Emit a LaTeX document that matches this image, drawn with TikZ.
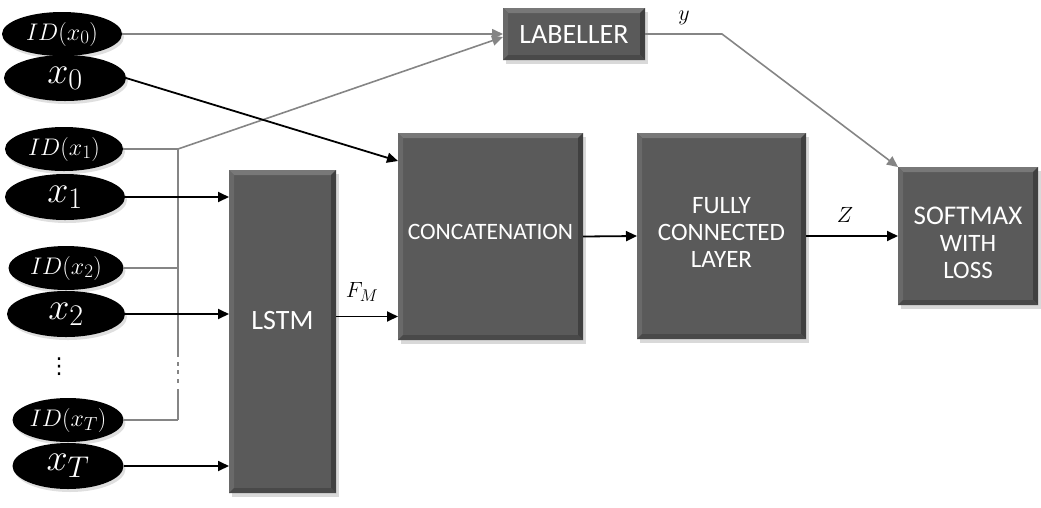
\RequirePackage{fix-cm}
\documentclass[tikz,border=0pt]{standalone}
\usepackage{fontspec}
\setsansfont{Carlito}
\newfontfamily\dejavu{DejaVu Sans}
\DeclareMathSizes{24}{24}{19}{14}
\DeclareMathSizes{38}{38}{30}{22}
\DeclareMathSizes{22}{22}{17}{12}
\usetikzlibrary{arrows.meta,shapes.geometric,shadows,calc}
\definecolor{boxgray}{HTML}{5A5A5A}
\definecolor{bvtop}{HTML}{787878}
\definecolor{bvleft}{HTML}{696969}
\definecolor{bvright}{HTML}{404040}
\definecolor{bvbot}{HTML}{494949}
\definecolor{linegray}{HTML}{858585}
\newcommand{\bevelit}[2]{%
  \fill[bvtop] (#1.north west) -- (#1.north east) -- ([shift={(-5pt,-5pt)}]#1.north east) -- ([shift={(5pt,-5pt)}]#1.north west) -- cycle;
  \fill[bvleft] (#1.north west) -- ([shift={(5pt,-5pt)}]#1.north west) -- ([shift={(5pt,5pt)}]#1.south west) -- (#1.south west) -- cycle;
  \fill[bvright] (#1.north east) -- ([shift={(-5pt,-5pt)}]#1.north east) -- ([shift={(-5pt,5pt)}]#1.south east) -- (#1.south east) -- cycle;
  \fill[bvbot] (#1.south west) -- ([shift={(5pt,5pt)}]#1.south west) -- ([shift={(-5pt,5pt)}]#1.south east) -- (#1.south east) -- cycle;
  \node[boxtext] (#1text) at ([yshift=#2]#1.center) {\csname txt#1\endcsname};
}
\begin{document}
\begin{tikzpicture}[x=1pt,y=-1pt,
  ell/.style={ellipse, fill=black, text=white, inner sep=0pt, outer sep=0pt,
    drop shadow={opacity=0.25, shadow xshift=2pt, shadow yshift=-3pt}},
  idell/.style={ell, minimum height=44pt, font=\fontsize{24}{24}\selectfont},
  xell/.style={ell, minimum height=46pt, font=\fontsize{38}{38}\selectfont},
  blk/.style={rectangle, fill=boxgray, inner sep=0pt, outer sep=0pt,
    drop shadow={opacity=0.3, shadow xshift=3pt, shadow yshift=-4pt}},
  boxtext/.style={text=white, align=center, font=\sffamily\fontsize{25}{27}\selectfont},
  garr/.style={draw=linegray, line width=1.6pt, -{Triangle[length=11pt,width=10pt]}},
  gline/.style={draw=linegray, line width=1.6pt},
  barr/.style={draw=black, line width=1.8pt, -{Triangle[length=11pt,width=10pt]}},
  lbl/.style={font=\fontsize{22}{22}\selectfont}]
\useasboundingbox (0,0) rectangle (1041,507);

% ellipses
\node[idell, minimum width=120pt] (ID0) at (62,34) {$ID(x_0)$};
\node[xell, minimum width=122pt] (X0) at (65,78) {$x_0$};
\node[idell, minimum width=118pt] (ID1) at (64,149) {$ID(x_1)$};
\node[xell, minimum width=120pt] (X1) at (65,197) {$x_1$};
\node[idell, minimum width=115pt] (ID2) at (66,268) {$ID(x_2)$};
\node[xell, minimum width=118pt] (X2) at (66,314) {$x_2$};
\node[font=\dejavu\fontsize{22}{22}\selectfont, inner sep=0pt] (dots) at (59,367) {⋮};
\node[idell, minimum width=111pt] (IDT) at (68,420) {$ID(x_T)$};
\node[xell, minimum width=111pt] (XT) at (68,466) {$x_T$};

% boxes
\def\txtlab{\fontsize{28}{28}\selectfont LABELLER}
\def\txtlstm{\fontsize{28}{28}\selectfont LSTM}
\def\txtconcat{\fontsize{23.5}{24}\selectfont CONCATENATION}
\def\txtfc{FULLY\\CONNECTED\\LAYER}
\def\txtsoft{\fontsize{27}{29}\selectfont SOFTMAX\\WITH\\LOSS}
\node[blk, minimum width=142pt, minimum height=52pt] (lab) at (574,34) {};
\node[blk, minimum width=107pt, minimum height=323pt] (lstm) at (282.5,331.5) {};
\node[blk, minimum width=185pt, minimum height=207pt] (concat) at (490.5,236.5) {};
\node[blk, minimum width=169pt, minimum height=206pt] (fc) at (721.5,236) {};
\node[blk, minimum width=140pt, minimum height=138pt] (soft) at (968,236) {};
\bevelit{lab}{-1pt}
\bevelit{lstm}{11pt}
\bevelit{concat}{5pt}
\bevelit{fc}{4pt}
\bevelit{soft}{-7pt}

% gray connectors
\coordinate (j1) at (178,149);
\coordinate (jT) at (178,420);
\coordinate (bA) at (178,357);
\coordinate (bB) at (178,389);
\coordinate (ycorner) at (722,34);
\draw[garr] (ID0.east) -- (lab.west);
\draw[gline] (ID1.east) -- (j1);
\draw[garr] (j1) -- ([yshift=-3pt]lab.west);
\draw[gline] (j1) -- (bA);
\draw[gline] (bB) -- (jT);
\foreach \yy in {362,370,379} \draw[gline] (178,\yy) -- (178,\yy+4);
\draw[gline] (ID2.east) -- (ID2.east -| j1);
\draw[gline] (IDT.east) -- (jT);
\draw[garr] (lab.east) -- (ycorner) -- (soft.north west);
\node[lbl] (ylab) at (684,18) {$y$};

% black connectors
\draw[barr] (X0.east) -- ([yshift=-28pt]concat.north west);
\draw[barr] (X1.east) -- (X1.east -| lstm.west);
\draw[barr] (X2.east) -- (X2.east -| lstm.west);
\draw[barr] (XT.east) -- (XT.east -| lstm.west);
\draw[barr] ([yshift=15pt]lstm.east) -- ([yshift=15pt]lstm.east -| concat.west);
\node[lbl] (fm) at (362,292) {$F_M$};
\draw[barr] (concat.east) -- (fc.west);
\draw[barr] (fc.east) -- (soft.west);
\node[lbl] (zl) at (845,215) {$Z$};
\end{tikzpicture}
\end{document}
